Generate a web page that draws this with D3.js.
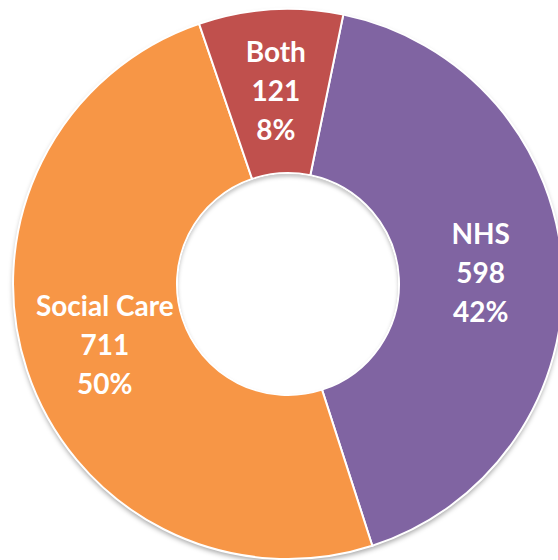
<!DOCTYPE html>
<html lang="en">
<head>
    <meta charset="UTF-8">
    <title>Doughnut: NHS / Social Care / Both</title>
    <script src="https://d3js.org/d3.v7.min.js"></script>
    <style>
        body { margin: 0; background: #fff; }
        text { font-family: Lato, "Open Sans", sans-serif; font-weight: bold; }
    </style>
</head>
<body>
    <div id="chart"></div>
    <script>
        const width = 558;
        const height = 560;

        // data
        const categories = ["NHS", "Social Care", "Both"];
        const values = [598, 711, 121];
        const colours = ["#8064A2", "#F79646", "#C0504D"];

        const cx = 288, cy = 284;
        const outerR = 275, innerR = 111;
        const startDeg = 11.6;

        const svg = d3.select("#chart")
            .append("svg")
            .attr("width", width)
            .attr("height", height);

        const defs = svg.append("defs");
        const f = defs.append("filter").attr("id", "shadow")
            .attr("x", "-10%").attr("y", "-10%").attr("width", "120%").attr("height", "120%");
        f.append("feDropShadow")
            .attr("dx", 0).attr("dy", 3).attr("stdDeviation", 2.5)
            .attr("flood-color", "#000").attr("flood-opacity", 0.35);
        defs.append("filter").attr("id", "blur")
            .append("feGaussianBlur").attr("stdDeviation", 2);
        defs.append("clipPath").attr("id", "hole")
            .append("circle").attr("r", innerR - 1);

        const total = d3.sum(values);
        const data = categories.map((c, i) => ({ name: c, value: values[i], colour: colours[i] }));

        const pie = d3.pie()
            .value(d => d.value)
            .sort(null)
            .startAngle(startDeg * Math.PI / 180)
            .endAngle(startDeg * Math.PI / 180 + 2 * Math.PI);

        const arc = d3.arc().innerRadius(innerR).outerRadius(outerR);

        const g = svg.append("g").attr("transform", `translate(${cx},${cy})`);

        // shadowed ring underneath
        g.append("path")
            .attr("d", d3.arc().innerRadius(innerR).outerRadius(outerR).startAngle(0).endAngle(2 * Math.PI)())
            .attr("fill", "#fff")
            .attr("filter", "url(#shadow)");

        const arcs = pie(data);

        g.selectAll("path.slice")
            .data(arcs)
            .enter()
            .append("path")
            .attr("class", "slice")
            .attr("d", arc)
            .attr("fill", d => d.data.colour)
            .attr("stroke", "#fff")
            .attr("stroke-width", 2);

        // hole: white with soft inner shadow near the top
        g.append("circle").attr("r", innerR - 1).attr("fill", "#fff");
        g.append("g").attr("clip-path", "url(#hole)")
            .append("circle")
            .attr("cy", 3)
            .attr("r", innerR + 2)
            .attr("fill", "none")
            .attr("stroke", "#000")
            .attr("stroke-opacity", 0.3)
            .attr("stroke-width", 4)
            .attr("filter", "url(#blur)");

        const fmtPct = d => Math.round(d.value / total * 100) + "%";

        const labels = g.selectAll("text.lbl")
            .data(arcs)
            .enter()
            .append("text")
            .attr("class", "lbl")
            .attr("text-anchor", "middle")
            .attr("fill", "#fff")
            .attr("font-size", 28)
            .attr("transform", d => {
                const [x, y] = arc.centroid(d);
                return `translate(${x},${y})`;
            });

        labels.each(function (d) {
            const t = d3.select(this);
            const lines = [d.data.name, d.data.value, fmtPct(d.data)];
            lines.forEach((l, i) => {
                t.append("tspan")
                    .attr("x", 0)
                    .attr("y", (i - 1) * 39 + 10)
                    .text(l);
            });
        });
    </script>
</body>
</html>
